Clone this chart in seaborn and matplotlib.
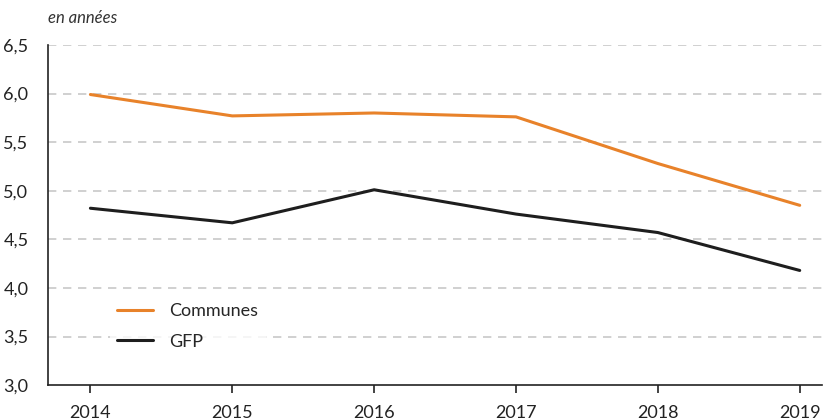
import matplotlib
matplotlib.use("Agg")
import matplotlib.pyplot as plt
import seaborn as sns
import pandas as pd
from matplotlib.ticker import FuncFormatter

years = [2014, 2015, 2016, 2017, 2018, 2019]
communes = [5.99, 5.77, 5.80, 5.76, 5.28, 4.85]
gfp = [4.82, 4.67, 5.01, 4.76, 4.57, 4.18]
series_names = ["Communes", "GFP"]
colors = ["#E8822A", "#1E1E1E"]
y_ticks = [3.0, 3.5, 4.0, 4.5, 5.0, 5.5, 6.0, 6.5]

df = pd.DataFrame({
    "year": years * 2,
    "value": communes + gfp,
    "serie": [series_names[0]] * len(years) + [series_names[1]] * len(years),
})

sns.set_theme(style="white")
plt.rcParams['font.family'] = ['Lato', 'DejaVu Sans']

fig = plt.figure(figsize=(8.25, 4.2), dpi=100)
ax = fig.add_axes([0.058, 0.083, 0.938, 0.810])

sns.lineplot(data=df, x="year", y="value", hue="serie", palette=colors,
             linewidth=2.2, ax=ax, legend=True, zorder=3)

ax.set_xlim(2013.70, 2019.155)
ax.set_ylim(3.0, 6.5)
ax.set_yticks(y_ticks)
ax.yaxis.set_major_formatter(FuncFormatter(lambda v, p: f"{v:.1f}".replace(".", ",")))
ax.set_xticks(years)
ax.set_xlabel("")
ax.set_ylabel("")

for v in y_ticks[1:]:
    ax.axhline(v, color="#C8C8C8", linestyle=(0, (5, 4)), linewidth=1.2, zorder=1)

for s in ["top", "right"]:
    ax.spines[s].set_visible(False)
for s in ["left", "bottom"]:
    ax.spines[s].set_color("#222222")
    ax.spines[s].set_linewidth(1.2)

ax.tick_params(axis="x", bottom=True, length=6, width=1.2, color="#222222",
               labelsize=13, labelcolor="#222222", pad=8)
ax.tick_params(axis="y", left=False, labelsize=13, labelcolor="#222222", pad=8)

leg = ax.legend(loc="upper left", bbox_to_anchor=(0.08, 0.262), frameon=True,
                fontsize=13, handlelength=2.0, handletextpad=0.9, labelspacing=0.8,
                borderaxespad=0)
leg.get_frame().set_facecolor("white")
leg.get_frame().set_edgecolor("none")
leg.set_zorder(4)

fig.text(0.058, 0.957, "en années", fontsize=12, style="italic", color="#333333",
         ha="left", va="center")

fig.savefig("out.png", dpi=100)
